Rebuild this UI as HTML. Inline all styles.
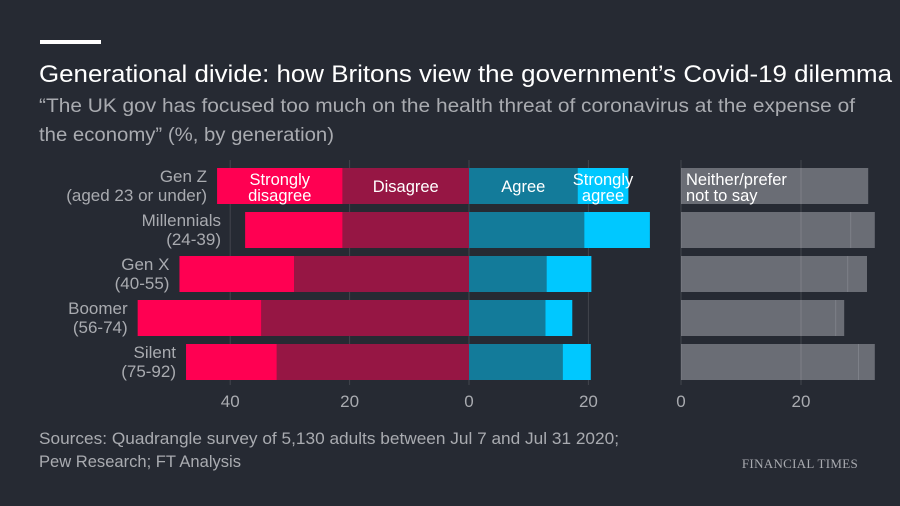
<!DOCTYPE html>
<html><head><meta charset="utf-8"><style>
body{margin:0;background:#262a33;}
svg{display:block;font-family:"Liberation Sans",sans-serif;}
</style></head><body>
<svg width="900" height="506" id="c">
<rect width="900" height="506" fill="#262a33"/>
<rect x="40" y="40" width="61" height="4" fill="#fff"/>
<text x="39" y="82" fill="#fff" font-size="24" textLength="853" lengthAdjust="spacingAndGlyphs">Generational divide: how Britons view the government’s Covid-19 dilemma</text>
<text x="39" y="112" fill="#a9abb0" font-size="19.5" textLength="816" lengthAdjust="spacingAndGlyphs">“The UK gov has focused too much on the health threat of coronavirus at the expense of</text>
<text x="39" y="141" fill="#a9abb0" font-size="19.5" textLength="295" lengthAdjust="spacingAndGlyphs">the economy” (%, by generation)</text>
<g id="labels"></g>
<g id="grid"></g>
<g id="plot"></g>
<g id="grid2"></g>
<text x="39" y="444" fill="#a9abb0" font-size="16.5" textLength="580" lengthAdjust="spacingAndGlyphs">Sources: Quadrangle survey of 5,130 adults between Jul 7 and Jul 31 2020;</text>
<text x="39" y="467" fill="#a9abb0" font-size="16.5" textLength="202" lengthAdjust="spacingAndGlyphs">Pew Research; FT Analysis</text>
<text x="858" y="468" fill="#a9abb0" font-size="13" text-anchor="end" font-family="Liberation Serif,serif" letter-spacing="0.3">FINANCIAL TIMES</text>
</svg>
<script>
const categories=["Gen Z","Millennials","Gen X","Boomer","Silent"];
const subLabels=["(aged 23 or under)","(24-39)","(40-55)","(56-74)","(75-92)"];
const stronglyDisagree=[21,16.3,19.2,20.7,15.2];
const disagree=[21.2,21.2,29.3,34.8,32.2];
const agree=[18.2,19.3,13,12.8,15.7];
const stronglyAgree=[8.5,11,7.5,4.5,4.7];
const neither=[31.2,28.2,27.7,25.7,29.5];
const preferNot=[0,4.1,3.3,1.5,2.8];
const mainTicks=[40,20,0,20];
const mainTickVals=[-40,-20,0,20];
const sideTicks=[0,20];
const NS="http://www.w3.org/2000/svg";
const g=document.getElementById('plot');
const gl=document.getElementById('labels');
const gg=document.getElementById('grid');
const gg2=document.getElementById('grid2');
const x0=469,k=5.97,sx0=681,sk=6;
const X=v=>x0+v*k, SX=v=>sx0+v*sk;
const rowY=i=>168+i*44, bh=36;
function el(t,a,p){const e=document.createElementNS(NS,t);for(const n in a)e.setAttribute(n,a[n]);(p||g).appendChild(e);return e;}
function txt(x,y,s,fill,size,anchor,p){const e=el('text',{x:x,y:y,fill:fill,'font-size':size,'text-anchor':anchor||'start'},p);e.textContent=s;return e;}
categories.forEach((c,i)=>{
  const y=rowY(i);
  let r;
  r=el('rect',{x:X(-disagree[i]),y:y,width:disagree[i]*k,height:bh,fill:'#961644'});
  
  r=el('rect',{x:X(-disagree[i]-stronglyDisagree[i]),y:y,width:stronglyDisagree[i]*k,height:bh,fill:'#ff0052'});
  
  r=el('rect',{x:X(0),y:y,width:agree[i]*k,height:bh,fill:'#137b9a'});
  
  r=el('rect',{x:X(agree[i]),y:y,width:stronglyAgree[i]*k,height:bh,fill:'#00c8ff'});
  
  r=el('rect',{x:SX(0),y:y,width:(neither[i]+preferNot[i])*sk,height:bh,fill:'#6a6d75'});
  
  if(preferNot[i]>0){r=el('rect',{x:SX(neither[i]),y:y,width:1,height:bh,fill:'#7d8088'});
  }
  const ax=Math.min(221,X(-disagree[i]-stronglyDisagree[i])-10);
  const l1=txt(ax,y+14,c,'#a9abb0',17,'end',gl);
  
  const l2=txt(ax,y+33,subLabels[i],'#a9abb0',17,'end',gl);
  
});
mainTickVals.forEach((v,j)=>{
  const l=el('line',{x1:X(v),x2:X(v),y1:160,y2:385,stroke:'#ffffff','stroke-opacity':0.13},gg);
  
  const t=txt(X(v),407,String(mainTicks[j]),'#a9abb0',17,'middle',gg);
  
});
sideTicks.forEach(v=>{
  const l=el('line',{x1:SX(v),x2:SX(v),y1:160,y2:385,stroke:'#ffffff','stroke-opacity':0.13},gg2);
  
  const t=txt(SX(v),407,String(v),'#a9abb0',17,'middle',gg2);
  
});
const y0=rowY(0);
const sdx=X(-disagree[0]-stronglyDisagree[0]/2), dx=X(-disagree[0]/2), ax=X(agree[0]/2), sax=X(agree[0]+stronglyAgree[0]/2);
let t;
t=txt(sdx,y0+17,'Strongly','#fff',16.5,'middle');
t=txt(sdx,y0+33,'disagree','#fff',16.5,'middle');
t=txt(dx,y0+24,'Disagree','#fff',16.5,'middle');
t=txt(ax,y0+24,'Agree','#fff',16.5,'middle');
t=txt(sax,y0+17,'Strongly','#fff',16.5,'middle');
t=txt(sax,y0+33,'agree','#fff',16.5,'middle');
t=txt(SX(0)+5,y0+17,'Neither/prefer','#fff',16.5);
t=txt(SX(0)+5,y0+33,'not to say','#fff',16.5);
</script>
</body></html>
